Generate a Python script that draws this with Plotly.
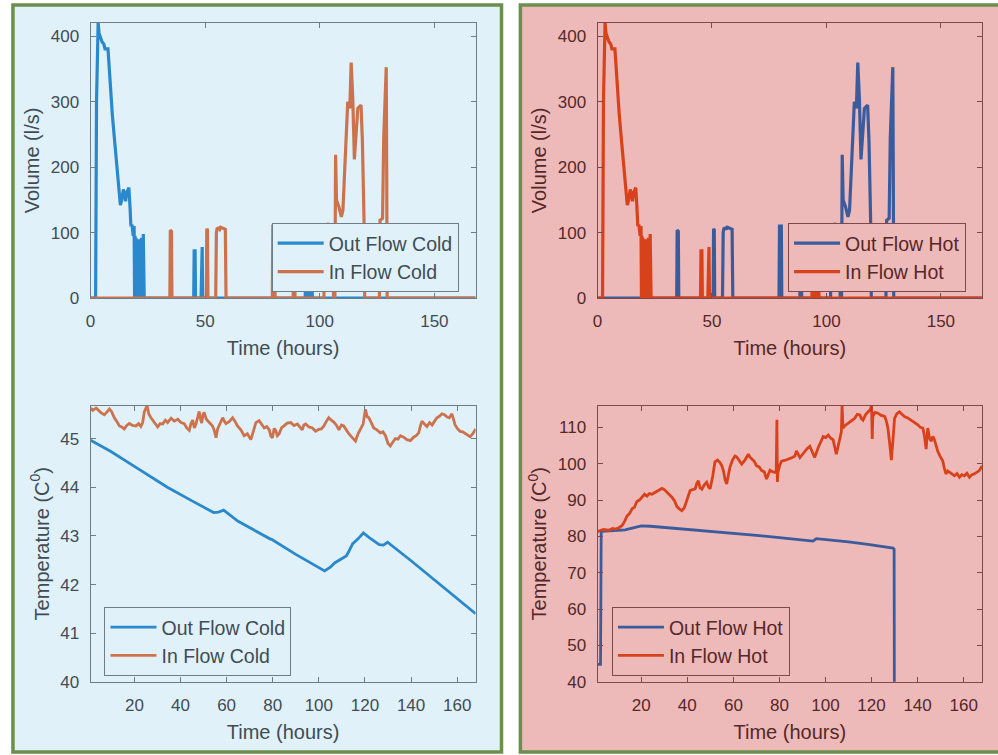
import plotly.graph_objects as go

# ---------------- flow records (l/s) ----------------
# Supply pulse: cold-tank outlet, which feeds the hot-tank inlet
supply_t = [0, 2.2, 2.6, 3.0, 3.3, 3.7, 4.2, 5.0, 5.8, 6.3, 7.6, 8.5, 9.5, 10.5, 11.5, 12.4,
            13.0, 13.6, 14.3, 14.8, 15.3, 15.7, 16.2, 16.7, 17.2, 17.6, 18.1, 18.6, 19.0,
            19.2, 19.4, 19.6, 19.8, 20.0, 20.2, 20.4, 20.6, 20.8, 21.0, 21.2, 21.4, 21.6,
            21.8, 22.0, 22.2, 22.4, 22.6, 22.8, 23.0, 23.2, 23.4,
            45.0, 45.2, 45.6, 45.8, 48.2, 48.4, 48.7, 48.9,
            93.6, 93.8, 94.0, 94.2, 94.4, 94.6, 94.8, 95.0, 95.2, 95.4, 95.6, 95.8, 96.0,
            96.2, 96.4, 96.6, 96.8, 168]
supply_q = [0, 0, 300, 410, 421, 405, 400, 392, 388, 381, 381, 330, 280, 240, 195, 160,
            142, 150, 166, 160, 148, 160, 167, 169, 140, 110, 112, 95, 110,
            0, 95, 0, 92, 0, 88, 0, 90, 0, 86, 0, 90, 0,
            85, 0, 92, 0, 88, 0, 98, 0, 0,
            0, 72, 72, 0, 0, 78, 78, 0,
            0, 18, 0, 20, 0, 16, 0, 21, 0, 18, 0, 20, 0,
            19, 0, 17, 0, 0]

# Return events: cold-tank inlet, which is the hot-tank outlet
return_t = [0, 34.6, 34.8, 35.3, 35.5, 50.5, 50.7, 51.0, 51.2,
            54.6, 54.9, 55.2, 56.0, 56.4, 56.8, 57.5, 58.2, 58.8, 59.1,
            79.3, 79.5, 80.3, 80.5, 88.4, 88.6, 89.0, 89.2,
            101.8, 102.2, 103.5, 105.0, 105.8, 106.0, 106.6, 106.9, 107.3, 108.4, 109.4,
            110.1, 111.0, 112.2, 112.6, 113.1, 113.7, 114.4, 115.1, 116.6, 118.0, 118.6,
            119.3, 119.6, 126.0, 126.3, 126.8, 127.4, 127.9, 128.5, 129.0, 129.2, 129.4, 168]
return_q = [0, 0, 104, 102, 0, 0, 106, 104, 0,
            0, 100, 106, 107, 105, 108, 107, 106, 105, 0,
            0, 110, 110, 0, 0, 110, 108, 0,
            0, 110, 113, 112, 110, 0, 0, 219, 150, 139, 124,
            134, 200, 300, 297, 290, 360, 305, 212, 290, 295, 240,
            120, 0, 0, 119, 120, 122, 245, 300, 353, 200, 0, 0]

# ---------------- temperature records (deg C) ----------------
cold_out_t = [1, 10, 20, 34.3, 45, 54.4, 56.5, 58.7, 65, 72, 78.8, 79.5, 90, 102.5, 105,
              107, 109, 111.9, 113, 114.7, 117, 119.3, 122, 126.2, 128, 129.8, 140, 150,
              160, 168]
cold_out_T = [44.97, 44.73, 44.43, 44.0, 43.72, 43.48, 43.49, 43.53, 43.30, 43.11, 42.94,
              42.93, 42.62, 42.28, 42.36, 42.45, 42.50, 42.59, 42.68, 42.84, 42.94, 43.06,
              42.96, 42.82, 42.81, 42.87, 42.49, 42.10, 41.72, 41.40]

cold_in_t = [1, 2, 3.4, 4.5, 5.6, 7, 8, 9.2, 10.2, 11.3, 12.4, 13.5, 14.5, 15.6, 16.7, 17.8,
             19.2, 20.7, 21.8, 22.8, 23.6, 24.3, 25.5, 26.3, 27.2, 28.6, 30.1, 31.2, 32.3,
             33.4, 34.4, 35.9, 37.3, 38.8, 40.2, 41.6, 42.7, 43.8, 44.5, 45.3, 46.0, 46.7,
             47.4, 48.1, 48.7, 49.2, 49.8, 50.3, 51.2, 52.1, 53.0, 53.9, 54.7, 55.4, 56.1,
             56.8, 57.6, 58.3, 59.0, 59.7, 61.1, 62.6, 63.6, 64.7, 66.2, 67.6, 69.0, 70.5,
             71.6, 72.7, 74.1, 75.2, 76.3, 77.4, 78.5, 79.2, 79.9, 80.6, 81.3, 82.0, 82.8,
             83.8, 84.9, 86.3, 87.8, 89.2, 90.7, 91.8, 92.8, 93.5, 94.3, 95.7, 97.2, 98.6,
             100, 101.1, 102.2, 103.3, 104.3, 105.4, 106.5, 107.6, 108.7, 109.8, 110.8,
             111.9, 113, 114.5, 115.9, 117, 118, 119.2, 120.2, 121, 121.7, 122.8, 123.8,
             125.2, 126.7, 127.8, 128.9, 130, 131, 132.1, 133.2, 134.3, 135.4, 136.8, 138.2,
             139.7, 141.1, 142.2, 143.3, 144, 144.7, 145.8, 146.9, 148, 149.1, 150.2, 151.2,
             152.3, 153.4, 154.5, 155.5, 156.6, 157.7, 158.4, 159.1, 160.2, 161.3, 162.4,
             163.5, 164.5, 165.6, 166.8, 168]
cold_in_T = [45.63, 45.58, 45.63, 45.57, 45.53, 45.49, 45.55, 45.61, 45.55, 45.43, 45.35,
             45.26, 45.24, 45.20, 45.27, 45.31, 45.27, 45.26, 45.31, 45.25, 45.33, 45.55,
             45.68, 45.50, 45.43, 45.34, 45.24, 45.31, 45.30, 45.38, 45.33, 45.42, 45.36,
             45.40, 45.33, 45.31, 45.22, 45.17, 45.30, 45.38, 45.22, 45.30, 45.44, 45.56,
             45.40, 45.32, 45.50, 45.54, 45.40, 45.36, 45.30, 45.26, 45.16, 45.02, 45.20,
             45.28, 45.36, 45.43, 45.36, 45.31, 45.35, 45.43, 45.36, 45.26, 45.18, 45.06,
             45.10, 44.98, 45.15, 45.33, 45.37, 45.28, 45.22, 45.25, 45.18, 45.05, 45.02,
             45.21, 45.17, 45.06, 45.10, 45.22, 45.26, 45.32, 45.33, 45.27, 45.30, 45.24,
             45.18, 45.28, 45.30, 45.24, 45.22, 45.15, 45.19, 45.20, 45.26, 45.36, 45.43,
             45.38, 45.34, 45.28, 45.18, 45.28, 45.26, 45.18, 45.10, 45.02, 44.95, 45.10,
             45.20, 45.30, 45.60, 45.45, 45.43, 45.30, 45.22, 45.18, 45.12, 45.14, 45.06,
             44.90, 44.85, 44.93, 45.00, 44.99, 45.06, 45.03, 44.98, 44.96, 45.03, 45.06,
             45.12, 45.25, 45.36, 45.30, 45.25, 45.33, 45.28, 45.36, 45.43, 45.46, 45.51,
             45.49, 45.45, 45.43, 45.51, 45.40, 45.28, 45.20, 45.15, 45.14, 45.11, 45.08,
             45.04, 45.10, 45.20]

hot_out_t = [1, 2.3, 2.6, 6, 10, 13, 16, 20, 24, 30, 40, 50, 60, 70, 80, 88, 94.6, 96, 100,
             110, 118.4, 124, 129.3, 129.8, 130.0, 168]
hot_out_T = [44.8, 44.8, 81.4, 81.6, 81.7, 81.8, 82.3, 82.9, 82.8, 82.5, 81.9, 81.3, 80.8,
             80.3, 79.7, 79.2, 78.7, 79.4, 79.2, 78.5, 77.8, 77.3, 76.8, 76.5, 0, 0]

hot_in_t = [1, 1.6, 3.5, 5.9, 7.5, 8.8, 10.3, 11.7, 12.8, 13.8, 15, 16, 17, 18.1, 19.2, 20.3,
            21.4, 22.5, 23.5, 24.6, 25.7, 26.8, 28, 29, 30, 31.1, 32.2, 33.3, 34.4, 35.5,
            36.5, 37.6, 38.7, 39.8, 40.5, 41.2, 42.3, 43.4, 44.1, 44.8, 45.5, 46.3, 47.3,
            48.4, 49.2, 49.9, 51, 52, 53.1, 54.2, 55, 55.7, 56.4, 57.1, 57.8, 58.5, 59.6,
            60.7, 61.4, 62.1, 62.9, 63.6, 65, 66.5, 67.2, 68, 69, 70.1, 71.2, 72.3, 73.4,
            74.4, 75.2, 75.9, 77, 78, 78.6, 78.9, 79.1, 79.3, 80.1, 80.9, 82.3, 83.8, 85.2,
            86.7, 87.4, 88.9, 90, 91, 92.1, 93.2, 94.2, 95.3, 96.8, 97.9, 99, 100.1, 101.2,
            102.3, 103.3, 104.7, 105.5, 106.2, 106.9, 107.2, 107.4, 107.6, 108.7, 109.8,
            111.2, 112.7, 113.8, 114.9, 115.6, 116.3, 117.4, 118.5, 119.4, 120.0, 120.3,
            120.6, 121.1, 121.6, 122.8, 124.2, 125.7, 126.4, 127.1, 127.9, 128.6, 129.3,
            130, 131, 132.1, 133.2, 134.3, 135.7, 137.2, 138.6, 140.1, 141.2, 142.3, 143,
            143.7, 144.4, 145.2, 145.9, 146.6, 147.3, 148, 148.7, 149.8, 150.9, 151.6,
            152.3, 153.1, 153.8, 154.9, 156, 157.1, 158.2, 159.2, 160.3, 161.4, 162.5,
            163.6, 164.6, 165.7, 166.8, 168]
hot_in_T = [81.3, 81.5, 81.9, 81.7, 82.2, 82.0, 82.4, 83.0, 84.2, 85.6, 86.4, 87.6, 88.0,
            89.6, 90.0, 90.9, 91.6, 91.1, 91.8, 91.6, 92.0, 92.3, 92.8, 93.2, 92.9, 92.2,
            91.6, 90.8, 89.8, 88.2, 87.6, 87.1, 87.9, 89.9, 91.6, 92.6, 92.9, 93.1, 94.6,
            95.3, 93.4, 93.0, 94.1, 94.9, 93.6, 93.1, 96.5, 100.5, 101.0, 100.3, 99.4, 98.0,
            95.6, 94.4, 96.8, 99.0, 101.0, 102.1, 101.9, 101.3, 100.6, 99.9, 101.0, 102.6,
            101.8, 101.2, 100.7, 99.4, 99.1, 98.1, 97.8, 95.8, 97.0, 98.2, 97.8, 97.6, 98.0,
            112.1, 95.0, 97.5, 99.5, 100.7, 100.9, 101.2, 101.6, 102.1, 103.5, 101.7, 102.6,
            103.1, 104.2, 104.8, 103.5, 101.7, 104.4, 105.8, 107.5, 107.2, 107.9, 107.0,
            106.6, 102.6, 105.2, 107.5, 108.8, 116.0, 110.0, 109.8, 110.6, 111.2, 111.8,
            112.5, 113.6, 113.4, 112.4, 112.0, 113.5, 114.3, 114.8, 116.0, 106.8, 114.2,
            113.6, 114.1, 113.9, 113.3, 113.0, 111.8, 109.8, 105.5, 101.0, 106.5, 112.5,
            113.8, 114.3, 113.6, 113.0, 112.6, 112.0, 111.3, 110.7, 110.0, 109.8, 107.5,
            104.0, 109.8, 107.0, 106.2, 107.5, 106.6, 105.0, 103.5, 102.0, 100.8, 98.8, 97.2,
            98.0, 97.6, 97.2, 96.7, 97.3, 96.3, 97.0, 96.7, 97.4, 96.3, 97.0, 97.2, 97.6,
            98.1, 99.4]

# ---------------- styling ----------------
W, H = 998, 755
FONT = "Liberation Sans, Arial, sans-serif"

COLD_BG = "#e1f1fa"
HOT_BG = "#eeb9b9"
FRAME = "#6b8f4c"

COLD_STYLE = dict(line="#6f7d87", text="#404c54", blue="#2a88cc", orange="#cc734e")
HOT_STYLE = dict(line="#7c4a4a", text="#552828", blue="#3b5c9c", orange="#d8421a")


def px_x(p):
    return p / W


def px_y(p):
    return 1 - p / H


fig = go.Figure()

# name, x, y, axis index, legend, colour, width
series = [
    ("Out Flow Cold", supply_t, supply_q, 1, "legend", COLD_STYLE["blue"], 3.2),
    ("In Flow Cold", return_t, return_q, 1, "legend", COLD_STYLE["orange"], 3.2),
    ("Out Flow Hot", return_t, return_q, 2, "legend2", HOT_STYLE["blue"], 3.2),
    ("In Flow Hot", supply_t, supply_q, 2, "legend2", HOT_STYLE["orange"], 3.2),
    ("Out Flow Cold", cold_out_t, cold_out_T, 3, "legend3", COLD_STYLE["blue"], 2.8),
    ("In Flow Cold", cold_in_t, cold_in_T, 3, "legend3", COLD_STYLE["orange"], 2.8),
    ("Out Flow Hot", hot_out_t, hot_out_T, 4, "legend4", HOT_STYLE["blue"], 2.8),
    ("In Flow Hot", hot_in_t, hot_in_T, 4, "legend4", HOT_STYLE["orange"], 2.8),
]
for name, x, y, ax, leg, col, w in series:
    sfx = "" if ax == 1 else str(ax)
    fig.add_trace(go.Scatter(
        x=x, y=y, mode="lines", name=name,
        line=dict(color=col, width=w),
        xaxis="x" + sfx, yaxis="y" + sfx, legend=leg,
    ))

# panel frames
fig.add_shape(type="rect", xref="paper", yref="paper",
              x0=px_x(8), x1=px_x(499), y0=px_y(762), y1=px_y(5),
              fillcolor=COLD_BG, line=dict(color=FRAME, width=3.5), layer="below")
fig.add_shape(type="rect", xref="paper", yref="paper",
              x0=px_x(518), x1=px_x(1010), y0=px_y(762), y1=px_y(5),
              fillcolor=HOT_BG, line=dict(color=FRAME, width=3.5), layer="below")

TOP = [px_y(302), px_y(23)]
BOT = [px_y(691), px_y(411)]
LEFT = [px_x(86), px_x(473)]
RIGHT = [px_x(595.5), px_x(982)]


def xaxis(domain, anchor, rng, ticks, st):
    return dict(domain=domain, anchor=anchor, range=rng, tickvals=ticks,
                showline=True, linecolor=st["line"], linewidth=1, mirror="ticks",
                ticks="inside", ticklen=5, tickcolor=st["line"], showgrid=False,
                zeroline=False, ticklabelstandoff=8,
                tickfont=dict(family=FONT, size=17, color=st["text"]),
                title=dict(text="Time (hours)", standoff=10,
                           font=dict(family=FONT, size=20, color=st["text"])))


def yaxis(domain, anchor, rng, ticks, title, st):
    return dict(domain=domain, anchor=anchor, range=rng, tickvals=ticks,
                showline=True, linecolor=st["line"], linewidth=1, mirror="ticks",
                ticks="inside", ticklen=5, tickcolor=st["line"], showgrid=False,
                zeroline=False, ticklabelstandoff=7,
                tickfont=dict(family=FONT, size=17, color=st["text"]),
                title=dict(text=title, standoff=5,
                           font=dict(family=FONT, size=20, color=st["text"])))


vol_ticks = [0, 100, 200, 300, 400]
time_ticks_top = [0, 50, 100, 150]
time_ticks_bot = [20, 40, 60, 80, 100, 120, 140, 160]
temp_title = "Temperature (C<sup>0</sup>)"

legend_common = dict(font=dict(family=FONT, size=19.5), borderwidth=1, itemwidth=46,
                     xanchor="left", yanchor="top", tracegroupgap=0)

fig.update_layout(
    width=W, height=H,
    margin=dict(l=0, r=0, t=0, b=0),
    paper_bgcolor="white",
    plot_bgcolor="rgba(0,0,0,0)",
    xaxis=xaxis(LEFT, "y", [0, 168], time_ticks_top, COLD_STYLE),
    yaxis=yaxis(TOP, "x", [0, 421], vol_ticks, "Volume (l/s)", COLD_STYLE),
    xaxis2=xaxis(RIGHT, "y2", [0, 168], time_ticks_top, HOT_STYLE),
    yaxis2=yaxis(TOP, "x2", [0, 421], vol_ticks, "Volume (l/s)", HOT_STYLE),
    xaxis3=xaxis(LEFT, "y3", [1, 168], time_ticks_bot, COLD_STYLE),
    yaxis3=yaxis(BOT, "x3", [40, 45.68], [40, 41, 42, 43, 44, 45], temp_title, COLD_STYLE),
    xaxis4=xaxis(RIGHT, "y4", [1, 168], time_ticks_bot, HOT_STYLE),
    yaxis4=yaxis(BOT, "x4", [40, 116], [40, 50, 60, 70, 80, 90, 100, 110], temp_title, HOT_STYLE),
    legend=dict(x=px_x(268), y=px_y(226), bgcolor=COLD_BG, bordercolor="#6f7d87",
                **legend_common),
    legend2=dict(x=px_x(787), y=px_y(226), bgcolor=HOT_BG, bordercolor="#7c4a4a",
                 **legend_common),
    legend3=dict(x=px_x(100), y=px_y(615), bgcolor=COLD_BG, bordercolor="#6f7d87",
                 **legend_common),
    legend4=dict(x=px_x(610), y=px_y(615), bgcolor=HOT_BG, bordercolor="#7c4a4a",
                 **legend_common),
)
for leg, st in (("legend", COLD_STYLE), ("legend2", HOT_STYLE),
                ("legend3", COLD_STYLE), ("legend4", HOT_STYLE)):
    fig.layout[leg].font.color = st["text"]

fig.write_html("out.html")
